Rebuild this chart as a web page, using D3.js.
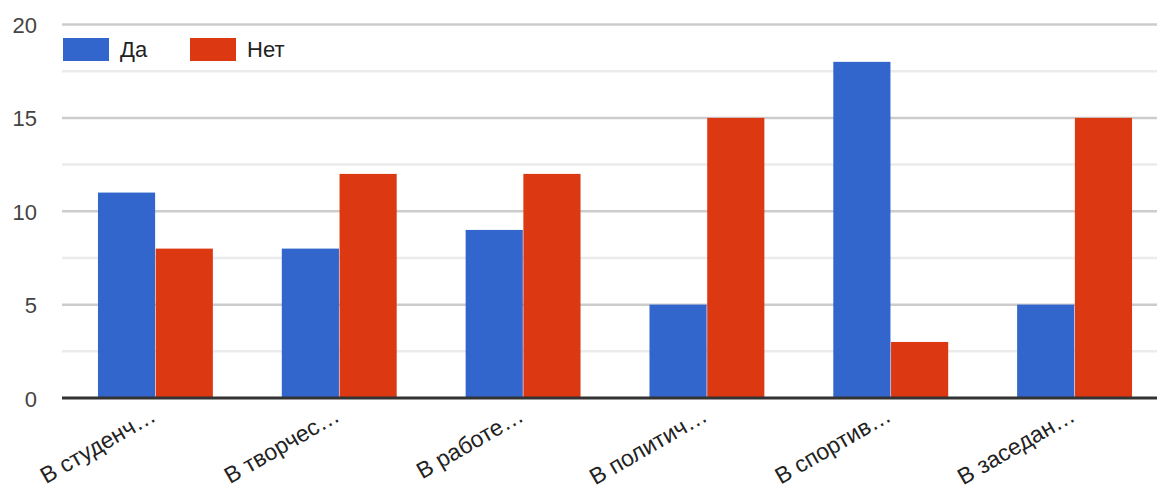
<!DOCTYPE html>
<html>
<head>
<meta charset="utf-8">
<script src="https://cdn.jsdelivr.net/npm/d3@7"></script>
<style>
  body { margin: 0; background: #fff; }
  svg { display: block; font-family: "Liberation Sans", Arial, sans-serif; }
</style>
</head>
<body>
<svg class="grafico"></svg>
<script>
// dados
const categorias = ["В студенч…", "В творчес…", "В работе…", "В политич…", "В спортив…", "В заседан…"];
const series = ["Да", "Нет"];
const valores_da  = [11, 8, 9, 5, 18, 5];
const valores_net = [8, 12, 12, 15, 3, 15];
const ticks_y = [0, 5, 10, 15, 20];
const cores = ["#3366cc", "#dc3912"];

const w = 1157;
const h = 489;
const FS = 22;

const $svg = d3.select(".grafico")
               .attr("width", w)
               .attr("height", h);

const dados = categorias.map((c, i) => ({ cat: c, vals: [valores_da[i], valores_net[i]] }));

const x = d3.scaleBand()
            .domain(categorias)
            .range([63.5, 1166.5])
            .paddingInner(0.375)
            .paddingOuter(0.1875);

const xs = d3.scaleBand()
             .domain(series)
             .range([0, x.bandwidth()])
             .paddingInner(0.01);

const y = d3.scaleLinear()
            .domain([0, 20])
            .range([398, 24.5]);

const x0 = 62;

// linhas de grade (menores e maiores)
const menores = d3.range(2.5, 20, 5);
$svg.append("g")
    .selectAll("line")
    .data(menores)
    .join("line")
    .attr("x1", x0).attr("x2", w)
    .attr("y1", d => y(d)).attr("y2", d => y(d))
    .attr("stroke", "#ebebeb")
    .attr("stroke-width", 2.5);

$svg.append("g")
    .selectAll("line")
    .data(ticks_y.filter(d => d > 0))
    .join("line")
    .attr("x1", x0).attr("x2", w)
    .attr("y1", d => y(d)).attr("y2", d => y(d))
    .attr("stroke", "#cccccc")
    .attr("stroke-width", 2.5);

// rótulos do eixo y
$svg.append("g")
    .selectAll("text")
    .data(ticks_y)
    .join("text")
    .attr("x", 37)
    .attr("y", d => y(d) + 8.5)
    .attr("text-anchor", "end")
    .attr("font-size", FS)
    .attr("fill", "#444")
    .text(d => d);

// barras
const grupos = $svg.append("g")
    .selectAll("g")
    .data(dados)
    .join("g")
    .attr("transform", d => `translate(${x(d.cat)},0)`);

grupos.selectAll("rect")
    .data(d => d.vals.map((v, j) => ({ serie: series[j], v: v, j: j })))
    .join("rect")
    .attr("x", d => xs(d.serie))
    .attr("width", xs.bandwidth())
    .attr("y", d => y(d.v))
    .attr("height", d => y(0) - y(d.v))
    .attr("fill", d => cores[d.j]);

// linha de base
$svg.append("line")
    .attr("x1", x0).attr("x2", w)
    .attr("y1", y(0)).attr("y2", y(0))
    .attr("stroke", "#333")
    .attr("stroke-width", 3);

// rótulos do eixo x
$svg.append("g")
    .selectAll("text")
    .data(categorias)
    .join("text")
    .attr("transform", d => `translate(${x(d) + x.bandwidth() / 2 + 2},420) rotate(-30)`)
    .attr("text-anchor", "end")
    .attr("font-size", 23)
    .attr("fill", "#222")
    .text(d => d);

// legenda
const leg_x = [63, 190];
const legenda = $svg.append("g")
    .selectAll("g")
    .data(series)
    .join("g")
    .attr("transform", (d, i) => `translate(${leg_x[i]},38)`);

legenda.append("rect")
    .attr("width", 46)
    .attr("height", 23)
    .attr("fill", (d, i) => cores[i]);

legenda.append("text")
    .attr("x", 57)
    .attr("y", 19.3)
    .attr("font-size", FS)
    .attr("fill", "#222")
    .text(d => d);
</script>
</body>
</html>
